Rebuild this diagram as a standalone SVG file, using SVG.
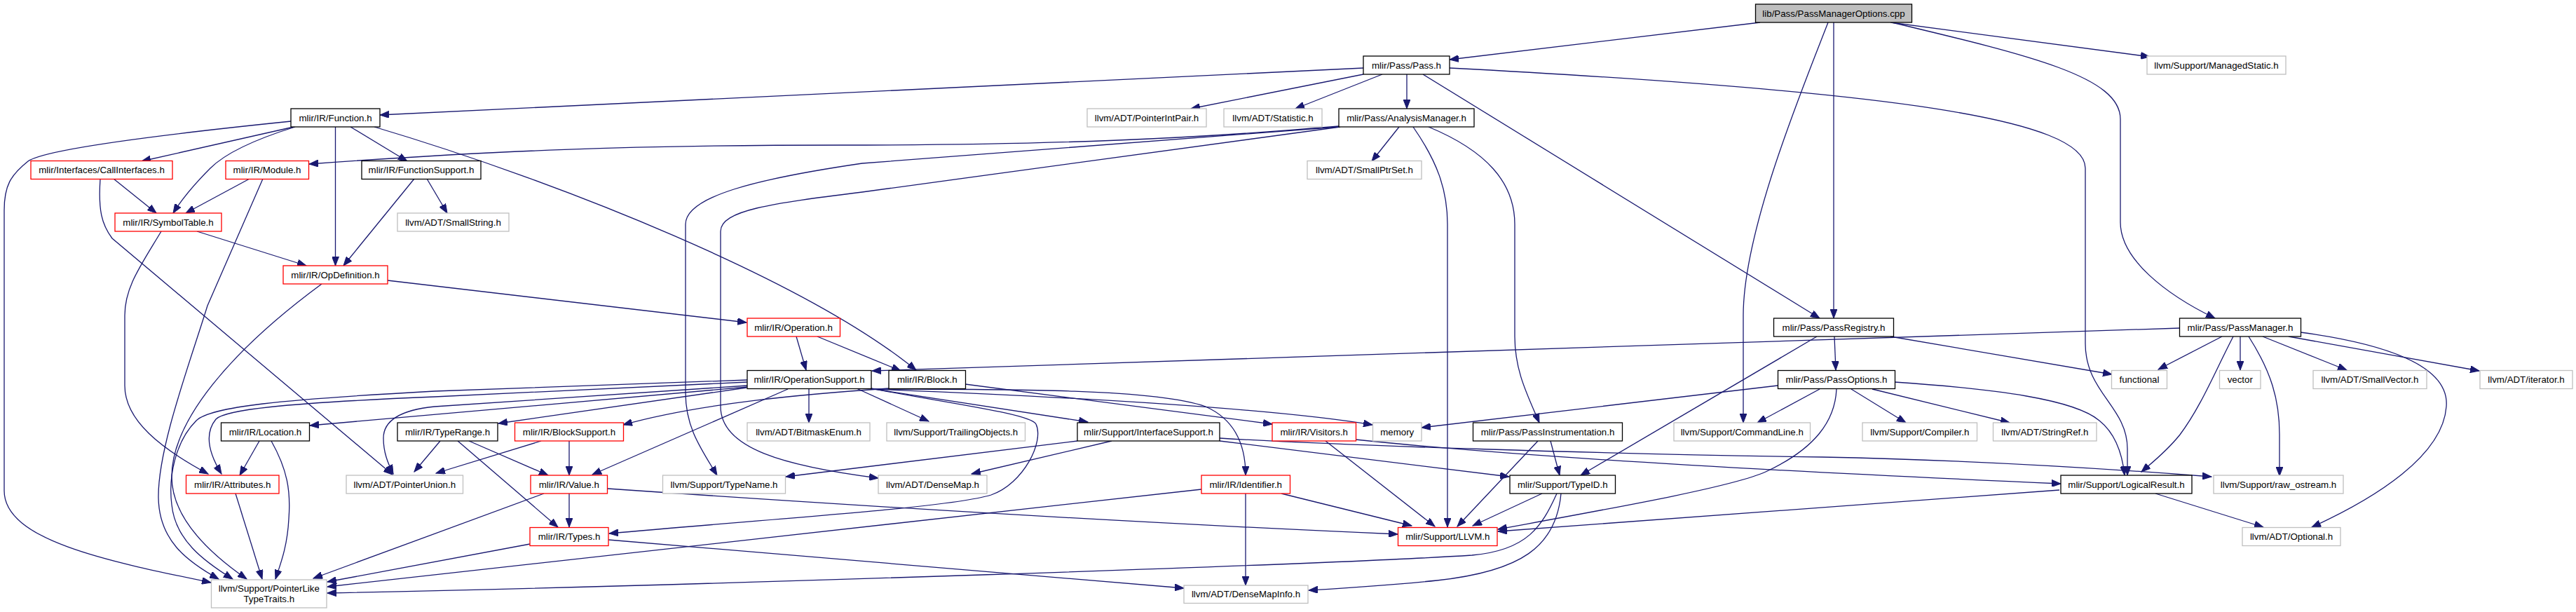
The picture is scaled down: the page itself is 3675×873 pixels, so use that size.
<svg xmlns="http://www.w3.org/2000/svg" width="3675" height="873" viewBox="0 0 3675 873">
<style>
.n rect{fill:#fff;stroke-width:1.3}
.k rect{stroke:#000}
.r rect{stroke:#ff0000}
.g rect{stroke:#bfbfbf}
.root rect{fill:#bfbfbf;stroke:#000}
.n text{font-family:"Liberation Sans",Arial,Helvetica,sans-serif;font-size:13.3px;fill:#000;text-anchor:middle}
.e path{fill:none;stroke:#191970;stroke-width:1.3;marker-end:url(#a)}
</style>
<defs>
<marker id="a" markerWidth="14" markerHeight="10" refX="13" refY="5" orient="auto" markerUnits="userSpaceOnUse"><path d="M0,0 L13,5 L0,10 z" fill="#191970" stroke="#191970" stroke-width="1"/></marker>
</defs>
<rect width="3675" height="873" fill="#fff"/>
<g id="edges" class="e">
<path d="M2511,32 L2068,85"/>
<path d="M2616,32 L2616,454"/>
<path d="M2608,32 C2570,130 2487,330 2487,450 L2487,603"/>
<path d="M2697,32 L3067,81"/>
<path d="M2699,32 C2900,80 3025,110 3025,170 L3025,317 C3025,370 3090,420 3160,454"/>
<path d="M1945,97 L542,164"/>
<path d="M1945,106 L1699,155"/>
<path d="M1972,106 L1848,155"/>
<path d="M2007,106 L2007,155"/>
<path d="M2030,106 L2596,454"/>
<path d="M2068,97 C2700,130 2975,170 2975,240 L2975,490 C2975,560 3035,580 3035,640 L3035,678"/>
<path d="M1996,181 L1957,230"/>
<path d="M1910,180 C1700,198 1500,207 1200,207 C900,207 700,215 441,234"/>
<path d="M1910,181 L1230,233 C1080,255 978,280 978,320 L978,560 C978,610 1000,640 1023,678"/>
<path d="M1912,181 L1230,274 C1100,290 1028,300 1028,330 L1028,580 C1028,640 1120,665 1253,682"/>
<path d="M2016,181 C2050,230 2065,270 2065,320 L2065,752"/>
<path d="M2038,181 C2120,215 2161,260 2161,320 L2161,480 C2161,530 2180,565 2196,603"/>
<path d="M415,173 C200,195 60,215 40,230 C15,250 6,265 6,300 L6,700 C6,770 150,800 301,831"/>
<path d="M419,181 L202,230"/>
<path d="M421,181 C360,200 320,220 300,240 C280,260 262,280 247,304"/>
<path d="M478.5,181 L478.5,379"/>
<path d="M500,181 L581,230"/>
<path d="M534,181 C800,260 1150,400 1307,528"/>
<path d="M162,255 L223,304"/>
<path d="M143,255 C140,300 145,320 160,340 L560,677"/>
<path d="M356,255 L265,304"/>
<path d="M375,255 L296,436 C270,520 225,640 226,710 C227,770 265,800 312,826"/>
<path d="M281,330 L437,379"/>
<path d="M230,330 C200,380 178,410 178,450 L178,550 C178,600 230,640 297,676"/>
<path d="M591,255 L490,379"/>
<path d="M609,255 L638,304"/>
<path d="M553,400 L1065,460"/>
<path d="M459,405 C330,500 245,600 245,680 C245,740 300,790 352,826"/>
<path d="M1136,480 L1150,528"/>
<path d="M1166,480 L1285,529"/>
<path d="M2617,480 L2619,528"/>
<path d="M2592,480 L2255,678"/>
<path d="M2697,480 L3013,534"/>
<path d="M2596,555 L2507,603"/>
<path d="M2641,555 L2719,603"/>
<path d="M2671,555 L2867,603"/>
<path d="M2703,545 C2850,555 2960,570 2995,600 C3020,620 3028,650 3031,678"/>
<path d="M2620,555 C2618,600 2590,640 2519,673 C2470,695 2300,725 2137,755"/>
<path d="M2536,550 L2028,610"/>
<path d="M3110,468 L1244,529"/>
<path d="M3170,480 L3079,527"/>
<path d="M3186,480 C3160,530 3140,580 3110,620 C3090,645 3070,660 3055,673"/>
<path d="M3196,480 L3196,528"/>
<path d="M3208,480 C3240,530 3252,570 3252,620 L3252,679"/>
<path d="M3228,480 L3348,528"/>
<path d="M3265,480 L3537,529"/>
<path d="M3282,474 C3400,490 3495,520 3490,580 C3485,650 3390,710 3298,752"/>
<path d="M3075,704 L3229,752"/>
<path d="M2938,699 L2137,758"/>
<path d="M1066,552 L442,607"/>
<path d="M1066,550 L620,580 C570,585 547,600 547,625 C547,645 553,660 561,676"/>
<path d="M1066,545 L620,566 C400,575 320,585 308,598 C290,620 300,650 316,676"/>
<path d="M1066,542 L620,558 C400,570 300,580 280,600 C250,630 240,680 245,720 C250,770 290,800 332,826"/>
<path d="M1065,553 L711,604"/>
<path d="M1124,555 L845,677"/>
<path d="M1154,554 L1154,603"/>
<path d="M1222,554 L1325,601"/>
<path d="M1240,554 L1552,602"/>
<path d="M1243,554 C1350,575 1470,590 1478,605 C1490,630 1460,690 1414,706 C1350,725 1100,740 869,761"/>
<path d="M1243,555 C1450,555 1650,555 1720,580 C1765,600 1777,640 1777,678"/>
<path d="M1244,555 C1500,565 1800,580 1958,606"/>
<path d="M1377,548 L1815,605"/>
<path d="M1268,554 C1150,562 1000,575 889,606"/>
<path d="M1891,629 L2047,751"/>
<path d="M1934,627 C2200,655 2600,675 2940,690"/>
<path d="M1537,629 L1121,680"/>
<path d="M1586,629 L1386,676"/>
<path d="M1740,625 C1900,635 2300,648 2600,652 C2800,656 3000,668 3155,680"/>
<path d="M1740,629 L2153,680"/>
<path d="M1828,704 L2014,750"/>
<path d="M1777,703 L1777,835"/>
<path d="M1714,698 L467,837"/>
<path d="M2200,704 L2101,750"/>
<path d="M2221,704 C2200,750 2180,785 2100,792 C1900,805 1000,835 467,846"/>
<path d="M2227,704 C2220,780 2170,815 2050,828 C1970,836 1900,840 1867,842"/>
<path d="M2194,629 L2079,751"/>
<path d="M2212,629 L2225,678"/>
<path d="M812,703 L812,752"/>
<path d="M867,697 C1200,720 1600,745 1994,762"/>
<path d="M776,704 L447,825"/>
<path d="M756,776 L467,830"/>
<path d="M868,770 L1689,839"/>
<path d="M628,629 L591,673"/>
<path d="M669,629 L782,678"/>
<path d="M653,629 L796,752"/>
<path d="M772,629 L622,675"/>
<path d="M812,629 L812,678"/>
<path d="M370,629 L342,678"/>
<path d="M387,629 C410,670 415,700 412,740 C410,780 400,805 393,826"/>
<path d="M336,704 L374,826"/>
</g>
<g id="n0" class="n root"><rect x="2504.5" y="6" width="223" height="26"/><text x="2616" y="23.5">lib/Pass/PassManagerOptions.cpp</text></g>
<g id="n1" class="n k"><rect x="1945" y="80" width="123" height="26"/><text x="2006.5" y="97.5">mlir/Pass/Pass.h</text></g>
<g id="n2" class="n g"><rect x="3063" y="80" width="198" height="26"/><text x="3162" y="97.5">llvm/Support/ManagedStatic.h</text></g>
<g id="n3" class="n k"><rect x="415" y="155" width="127" height="26"/><text x="478.5" y="172.5">mlir/IR/Function.h</text></g>
<g id="n4" class="n g"><rect x="1551" y="155" width="170" height="26"/><text x="1636" y="172.5">llvm/ADT/PointerIntPair.h</text></g>
<g id="n5" class="n g"><rect x="1746" y="155" width="140" height="26"/><text x="1816" y="172.5">llvm/ADT/Statistic.h</text></g>
<g id="n6" class="n k"><rect x="1910" y="155" width="193" height="26"/><text x="2006.5" y="172.5">mlir/Pass/AnalysisManager.h</text></g>
<g id="n7" class="n r"><rect x="44" y="229.5" width="202" height="26"/><text x="145" y="247">mlir/Interfaces/CallInterfaces.h</text></g>
<g id="n8" class="n r"><rect x="322" y="229.5" width="118.5" height="26"/><text x="381" y="247">mlir/IR/Module.h</text></g>
<g id="n9" class="n k"><rect x="516" y="229.5" width="170" height="26"/><text x="601" y="247">mlir/IR/FunctionSupport.h</text></g>
<g id="n10" class="n g"><rect x="1865" y="229.5" width="163" height="26"/><text x="1946.5" y="247">llvm/ADT/SmallPtrSet.h</text></g>
<g id="n11" class="n r"><rect x="164" y="304" width="152" height="26"/><text x="240" y="321.5">mlir/IR/SymbolTable.h</text></g>
<g id="n12" class="n g"><rect x="567" y="304" width="159" height="26"/><text x="646.5" y="321.5">llvm/ADT/SmallString.h</text></g>
<g id="n13" class="n r"><rect x="404" y="379" width="149" height="26"/><text x="478.5" y="396.5">mlir/IR/OpDefinition.h</text></g>
<g id="n14" class="n r"><rect x="1066" y="454" width="132.5" height="26"/><text x="1132" y="471.5">mlir/IR/Operation.h</text></g>
<g id="n15" class="n k"><rect x="2530.5" y="454" width="171" height="26"/><text x="2616" y="471.5">mlir/Pass/PassRegistry.h</text></g>
<g id="n16" class="n k"><rect x="3109.5" y="454" width="173" height="26"/><text x="3196" y="471.5">mlir/Pass/PassManager.h</text></g>
<g id="n17" class="n k"><rect x="1066" y="528.5" width="177" height="26"/><text x="1154.5" y="546">mlir/IR/OperationSupport.h</text></g>
<g id="n18" class="n k"><rect x="1268" y="528.5" width="109.5" height="26"/><text x="1322.75" y="546">mlir/IR/Block.h</text></g>
<g id="n19" class="n k"><rect x="2536.5" y="528.5" width="167" height="26"/><text x="2620" y="546">mlir/Pass/PassOptions.h</text></g>
<g id="n20" class="n g"><rect x="3012.5" y="528.5" width="79" height="26"/><text x="3052" y="546">functional</text></g>
<g id="n21" class="n g"><rect x="3166.5" y="528.5" width="58.5" height="26"/><text x="3195.75" y="546">vector</text></g>
<g id="n22" class="n g"><rect x="3300" y="528.5" width="162" height="26"/><text x="3381" y="546">llvm/ADT/SmallVector.h</text></g>
<g id="n23" class="n g"><rect x="3538" y="528.5" width="132" height="26"/><text x="3604" y="546">llvm/ADT/iterator.h</text></g>
<g id="n24" class="n k"><rect x="315.5" y="603" width="126" height="26"/><text x="378.5" y="620.5">mlir/IR/Location.h</text></g>
<g id="n25" class="n k"><rect x="567" y="603" width="143" height="26"/><text x="638.5" y="620.5">mlir/IR/TypeRange.h</text></g>
<g id="n26" class="n r"><rect x="734.5" y="603" width="155" height="26"/><text x="812" y="620.5">mlir/IR/BlockSupport.h</text></g>
<g id="n27" class="n g"><rect x="1066" y="603" width="175" height="26"/><text x="1153.5" y="620.5">llvm/ADT/BitmaskEnum.h</text></g>
<g id="n28" class="n g"><rect x="1265" y="603" width="197.5" height="26"/><text x="1363.75" y="620.5">llvm/Support/TrailingObjects.h</text></g>
<g id="n29" class="n k"><rect x="1537" y="603" width="203" height="26"/><text x="1638.5" y="620.5">mlir/Support/InterfaceSupport.h</text></g>
<g id="n30" class="n r"><rect x="1815" y="603" width="119.5" height="26"/><text x="1874.75" y="620.5">mlir/IR/Visitors.h</text></g>
<g id="n31" class="n g"><rect x="1958.5" y="603" width="69.5" height="26"/><text x="1993.25" y="620.5">memory</text></g>
<g id="n32" class="n k"><rect x="2101.5" y="603" width="213" height="26"/><text x="2208" y="620.5">mlir/Pass/PassInstrumentation.h</text></g>
<g id="n33" class="n g"><rect x="2388" y="603" width="194.5" height="26"/><text x="2485.25" y="620.5">llvm/Support/CommandLine.h</text></g>
<g id="n34" class="n g"><rect x="2657" y="603" width="163.5" height="26"/><text x="2738.75" y="620.5">llvm/Support/Compiler.h</text></g>
<g id="n35" class="n g"><rect x="2843.5" y="603" width="147.5" height="26"/><text x="2917.25" y="620.5">llvm/ADT/StringRef.h</text></g>
<g id="n36" class="n r"><rect x="265.5" y="678" width="132.5" height="26"/><text x="331.75" y="695.5">mlir/IR/Attributes.h</text></g>
<g id="n37" class="n g"><rect x="494" y="678" width="166.5" height="26"/><text x="577.25" y="695.5">llvm/ADT/PointerUnion.h</text></g>
<g id="n38" class="n r"><rect x="757" y="678" width="109.5" height="26"/><text x="811.75" y="695.5">mlir/IR/Value.h</text></g>
<g id="n39" class="n g"><rect x="945.5" y="678" width="175" height="26"/><text x="1033" y="695.5">llvm/Support/TypeName.h</text></g>
<g id="n40" class="n g"><rect x="1253" y="678" width="155" height="26"/><text x="1330.5" y="695.5">llvm/ADT/DenseMap.h</text></g>
<g id="n41" class="n r"><rect x="1714" y="678" width="126.5" height="26"/><text x="1777.25" y="695.5">mlir/IR/Identifier.h</text></g>
<g id="n42" class="n k"><rect x="2154" y="678" width="150.5" height="26"/><text x="2229.25" y="695.5">mlir/Support/TypeID.h</text></g>
<g id="n43" class="n k"><rect x="2940" y="678" width="187" height="26"/><text x="3033.5" y="695.5">mlir/Support/LogicalResult.h</text></g>
<g id="n44" class="n g"><rect x="3158" y="678" width="185" height="26"/><text x="3250.5" y="695.5">llvm/Support/raw_ostream.h</text></g>
<g id="n45" class="n r"><rect x="756" y="752.5" width="112" height="26"/><text x="812" y="770">mlir/IR/Types.h</text></g>
<g id="n46" class="n r"><rect x="1994.5" y="752.5" width="141.5" height="26"/><text x="2065.25" y="770">mlir/Support/LLVM.h</text></g>
<g id="n47" class="n g"><rect x="3199" y="752.5" width="140" height="26"/><text x="3269" y="770">llvm/ADT/Optional.h</text></g>
<g id="n48" class="n g"><rect x="301.5" y="827" width="164.5" height="40"/><text x="383.75" y="844">llvm/Support/PointerLike</text><text x="383.75" y="859">TypeTraits.h</text></g>
<g id="n49" class="n g"><rect x="1689" y="835" width="177" height="25.5"/><text x="1777.5" y="852">llvm/ADT/DenseMapInfo.h</text></g>
</svg>
